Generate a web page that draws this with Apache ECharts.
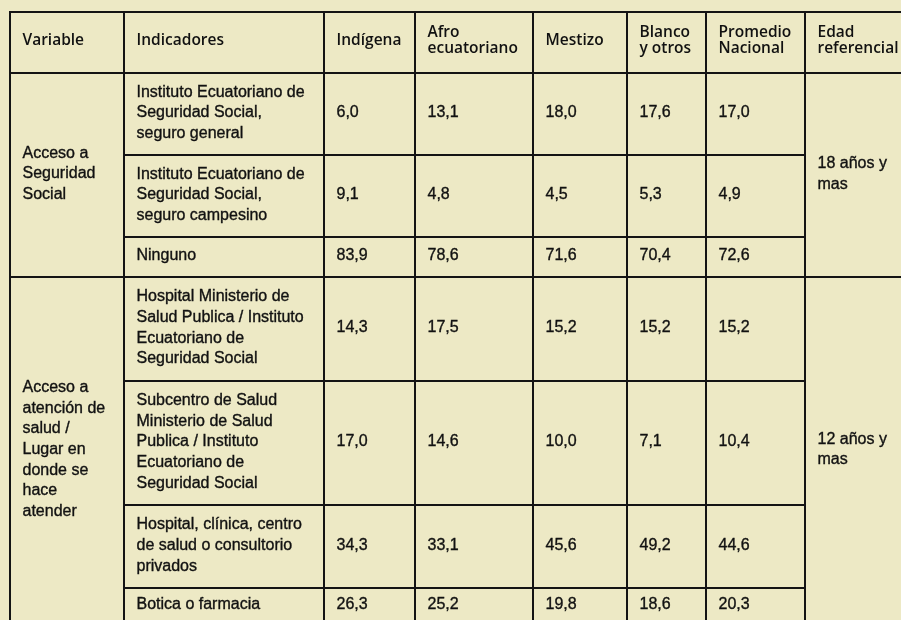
<!DOCTYPE html>
<html lang="es">
<head>
    <meta charset="UTF-8">
    <title>Acceso a seguridad social y salud</title>
    <style>
        html, body {
            margin: 0;
            padding: 0;
            background: #ede9c5;
        }
        #main {
            width: 901px;
            height: 620px;
        }
    </style>
    <script type="text/javascript" src="https://cdn.jsdelivr.net/npm/echarts@6/dist/echarts.min.js"></script>
</head>
<body>
<div id="main"></div>
<script type="text/javascript">
    // datos de la tabla
    var headers = ['Variable', 'Indicadores', 'Indígena', 'Afro\necuatoriano', 'Mestizo',
        'Blanco\ny otros', 'Promedio\nNacional', 'Edad\nreferencial'];
    var variables = ['Acceso a\nSeguridad\nSocial',
        'Acceso a\natención de\nsalud /\nLugar en\ndonde se\nhace\natender'];
    var filasPorVariable = [3, 4];
    var edades = ['18 años y\nmas', '12 años y\nmas'];
    var indicadores = [
        'Instituto Ecuatoriano de\nSeguridad Social,\nseguro general',
        'Instituto Ecuatoriano de\nSeguridad Social,\nseguro campesino',
        'Ninguno',
        'Hospital Ministerio de\nSalud Publica / Instituto\nEcuatoriano de\nSeguridad Social',
        'Subcentro de Salud\nMinisterio de Salud\nPublica / Instituto\nEcuatoriano de\nSeguridad Social',
        'Hospital, clínica, centro\nde salud o consultorio\nprivados',
        'Botica o farmacia'
    ];
    var indigena = [6.0, 9.1, 83.9, 14.3, 17.0, 34.3, 26.3];
    var afro = [13.1, 4.8, 78.6, 17.5, 14.6, 33.1, 25.2];
    var mestizo = [18.0, 4.5, 71.6, 15.2, 10.0, 45.6, 19.8];
    var blanco = [17.6, 5.3, 70.4, 15.2, 7.1, 49.2, 18.6];
    var promedio = [17.0, 4.9, 72.6, 15.2, 10.4, 44.6, 20.3];

    // bordes de columnas y filas (px)
    var colEdges = [10, 124, 324, 415, 533, 627, 706, 805, 905];
    var rowEdges = [12, 73, 155, 237, 277, 381, 505, 588, 624];

    function fmt(v) {
        return v.toFixed(1).replace('.', ',');
    }

    var cellData = [], cellText = [], cellKind = [];
    function addCell(c0, r0, c1, r1, text, kind) {
        cellData.push([c0, r0, c1, r1]);
        cellText.push(text);
        cellKind.push(kind);
    }

    headers.forEach(function (h, i) {
        addCell(i, 0, i + 1, 1, h, 'head');
    });
    var rs = 1;
    variables.forEach(function (v, g) {
        var n = filasPorVariable[g];
        addCell(0, rs, 1, rs + n, v, 'body');
        addCell(7, rs, 8, rs + n, edades[g], 'body');
        rs += n;
    });
    var columnas = [indigena, afro, mestizo, blanco, promedio];
    indicadores.forEach(function (t, k) {
        addCell(1, k + 1, 2, k + 2, t, 'body');
        columnas.forEach(function (col, j) {
            addCell(j + 2, k + 1, j + 3, k + 2, fmt(col[k]), 'body');
        });
    });

    function renderItem(params, api) {
        var c0 = api.value(0), r0 = api.value(1), c1 = api.value(2), r1 = api.value(3);
        var p0 = api.coord([colEdges[c0], rowEdges[r0]]);
        var p1 = api.coord([colEdges[c1], rowEdges[r1]]);
        var head = cellKind[params.dataIndex] === 'head';
        return {
            type: 'group',
            children: [{
                type: 'rect',
                shape: {x: p0[0], y: p0[1], width: p1[0] - p0[0], height: p1[1] - p0[1]},
                style: {fill: 'none', stroke: '#141414', lineWidth: 2}
            }, {
                type: 'text',
                x: p0[0] + 12.5,
                y: (p0[1] + p1[1]) / 2 + (head ? -2 : -1),
                style: {
                    text: cellText[params.dataIndex],
                    fill: '#111',
                    stroke: head ? null : '#111',
                    lineWidth: head ? 0 : 0.35,
                    align: 'left',
                    verticalAlign: 'middle',
                    fontFamily: head ? 'Open Sans' : 'Liberation Sans',
                    fontWeight: head ? 600 : 'normal',
                    fontSize: head ? 15.5 : 16,
                    lineHeight: head ? 16.5 : 20.7
                }
            }]
        };
    }

    var chart = echarts.init(document.getElementById('main'));
    chart.setOption({
        animation: false,
        backgroundColor: '#ede9c5',
        grid: {left: 0, right: 0, top: 0, bottom: 0},
        xAxis: {type: 'value', min: 0, max: 901, show: false},
        yAxis: {type: 'value', min: 0, max: 620, inverse: true, show: false},
        series: [{
            type: 'custom',
            clip: false,
            renderItem: renderItem,
            encode: {x: [0, 2], y: [1, 3]},
            data: cellData
        }]
    });
</script>
</body>
</html>
